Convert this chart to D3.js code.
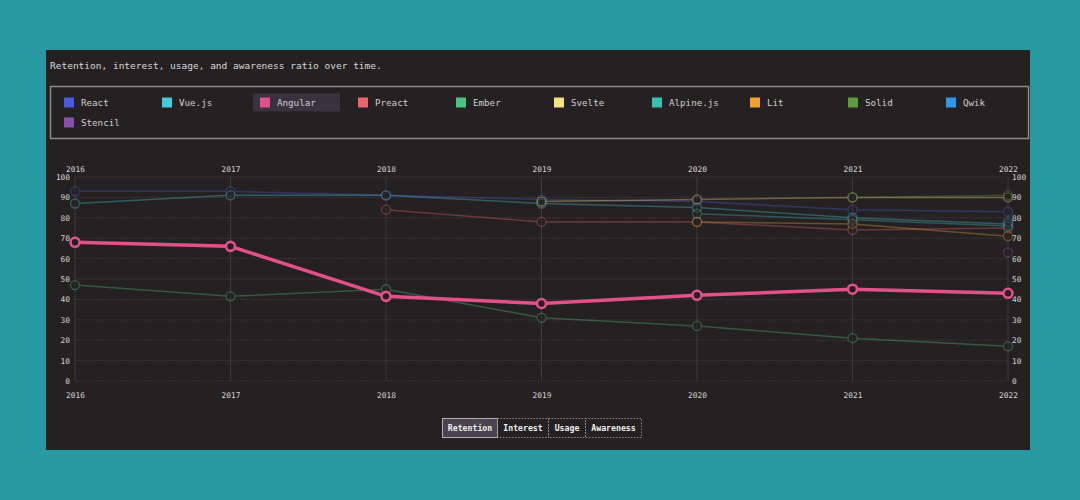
<!DOCTYPE html>
<html><head><meta charset="utf-8">
<script src="https://cdn.jsdelivr.net/npm/d3@7"></script>
<style>
html,body{margin:0;padding:0;background:#2799a1;width:1080px;height:500px;overflow:hidden}
svg{display:block}
</style></head><body>
<svg id="c" width="1080" height="500"></svg>
<script>
const years = [2016, 2017, 2018, 2019, 2020, 2021, 2022];
const names = ["React","Vue.js","Angular","Preact","Ember","Svelte","Alpine.js","Lit","Solid","Qwik","Stencil"];
const colors = ["#4b5ae0","#45c9dd","#e4508b","#ea6569","#4bc27d","#f4e27c","#3cbfb3","#f0a231","#5d9b3d","#2f97e9","#8a4fa9"];
const react   = [93, 93, 91, 89, 88, 84, 83];
const vue     = [87, 91, 91, 87, 85, 80, 77];
const angular = [68, 66, 41.5, 38, 42, 45, 43];
const preact  = [null, null, 84, 78, 78, 74, 75];
const ember   = [47, 41.5, 45, 31, 27, 21, 17];
const svelte  = [null, null, null, 88, 89, 90, 90];
const alpine  = [null, null, null, null, 82, 79, 76];
const lit     = [null, null, null, null, 78, 77, 71];
const solid   = [null, null, null, null, null, 90, 91];
const qwik    = [null, null, null, null, null, null, 78];
const stencil = [null, null, null, null, null, null, 63];
const seriesValues = [react, vue, angular, preact, ember, svelte, alpine, lit, solid, qwik, stencil];
const yTicks = [0,10,20,30,40,50,60,70,80,90,100];
const tabs = ["Retention","Interest","Usage","Awareness"];
const title = "Retention, interest, usage, and awareness ratio over time.";
const highlighted = "Angular";

const svg = d3.select("#c");
const mono = "'DejaVu Sans Mono', 'Liberation Mono', monospace";

// panel
svg.append("rect").attr("x",46).attr("y",50).attr("width",984).attr("height",400).attr("fill","#252122");
svg.append("text").attr("x",50).attr("y",69).attr("font-family",mono).attr("font-size",9.5)
  .attr("fill","#d8d8d8").text(title);

// legend
svg.append("rect").attr("x",50.5).attr("y",86.5).attr("width",978).attr("height",52)
  .attr("fill","none").attr("stroke","#8a8a8a").attr("stroke-width",1.5);
const legX = d3.scaleBand().domain(d3.range(10)).range([57, 1037]);
const leg = svg.append("g");
names.forEach((n,i)=>{
  const col = i%10, row = Math.floor(i/10);
  const x = legX(col)+7, y = 102.5 + row*20;
  if (n===highlighted) {
    leg.append("rect").attr("x",x-7).attr("y",y-9).attr("width",87).attr("height",18).attr("fill","#38333f").attr("rx",1);
  }
  leg.append("rect").attr("x",x).attr("y",y-5).attr("width",10).attr("height",10).attr("fill",colors[i]);
  leg.append("text").attr("x",x+17).attr("y",y+3.3).attr("font-family",mono).attr("font-size",9.2)
    .attr("fill","#cfcfcf").text(n);
});

// scales
const x = d3.scalePoint().domain(years).range([75, 1008]);
const y = d3.scaleLinear().domain([0,100]).range([381, 177]);

// grid
const g = svg.append("g");
g.selectAll(".hg").data(yTicks).enter().append("line")
  .attr("x1",75).attr("x2",1008).attr("y1",d=>y(d)).attr("y2",d=>y(d))
  .attr("stroke","#3a3638").attr("stroke-width",1).attr("stroke-dasharray","2,1");
g.selectAll(".vg").data(years).enter().append("line")
  .attr("x1",d=>x(d)).attr("x2",d=>x(d)).attr("y1",177).attr("y2",381)
  .attr("stroke","#3d393b").attr("stroke-width",1);

// axes
function styleAxis(sel){
  sel.select(".domain").remove();
  sel.selectAll(".tick line").remove();
  sel.selectAll("text").attr("font-family",mono).attr("font-size",7.8).attr("fill","#d4d4d4");
}
svg.append("g").attr("transform","translate(0,381)")
  .call(d3.axisBottom(x).tickSize(0).tickPadding(11)).call(styleAxis);
svg.append("g").attr("transform","translate(0,177)")
  .call(d3.axisTop(x).tickSize(0).tickPadding(5)).call(styleAxis);
svg.append("g").attr("transform","translate(70,0)")
  .call(d3.axisLeft(y).tickValues(yTicks).tickSize(0).tickPadding(0)).call(styleAxis);
svg.append("g").attr("transform","translate(1012,0)")
  .call(d3.axisRight(y).tickValues(yTicks).tickSize(0).tickPadding(0)).call(styleAxis);

// lines
const line = d3.line().defined(d=>d.v!==null).x(d=>x(d.year)).y(d=>y(d.v));
const order = names.map((n,i)=>i).filter(i=>names[i]!==highlighted).concat(names.indexOf(highlighted));
order.forEach(i=>{
  const hl = names[i]===highlighted;
  const pts = years.map((yr,j)=>({year:yr, v:seriesValues[i][j]}));
  const sg = svg.append("g").attr("opacity", hl?1:0.35);
  sg.append("path").datum(pts).attr("d",line).attr("fill","none")
    .attr("stroke",colors[i]).attr("stroke-width",hl?3.5:1.5).attr("stroke-linejoin","round");
  sg.selectAll("circle").data(pts.filter(d=>d.v!==null)).enter().append("circle")
    .attr("cx",d=>x(d.year)).attr("cy",d=>y(d.v)).attr("r",4.5)
    .attr("fill", "#252122").attr("stroke", colors[i]).attr("stroke-width",hl?2.6:1.4);
});

// tabs
const tabW = [55, 51, 37, 56];
let tx = 442;
tabs.forEach((t,i)=>{
  const active = i===0;
  svg.append("rect").attr("x",tx+0.5).attr("y",418.5).attr("width",tabW[i]).attr("height",19)
    .attr("fill",active?"#4a4350":"none").attr("stroke",active?"#b5aeb8":"#8a8a8a")
    .attr("stroke-width",1).attr("stroke-dasharray",active?null:"1.5,1.5");
  svg.append("text").attr("x",tx+0.5+tabW[i]/2).attr("y",431).attr("text-anchor","middle")
    .attr("font-family",mono).attr("font-size",8.2).attr("font-weight","bold").attr("fill","#eee").text(t);
  tx += tabW[i];
});
</script>
</body></html>
